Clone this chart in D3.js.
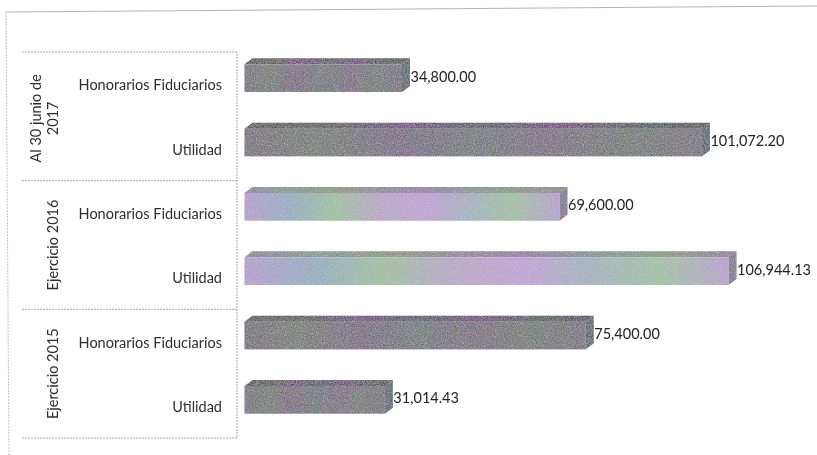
<!DOCTYPE html>
<html>
<head>
<meta charset="utf-8">
<script src="https://d3js.org/d3.v7.min.js"></script>
<style>
  html, body {margin: 0; padding: 0; background: #fff;}
  text {font-family: Lato, "Open Sans", sans-serif; fill: #2e2e2e;}
  .cat {font-size: 14.5px; text-anchor: end;}
  .val {font-size: 14.5px; fill: #222;}
  .grp {font-size: 14.5px; text-anchor: middle;}
  .edge {stroke: #a8a8a8; stroke-width: 1; stroke-dasharray: 2 1; fill: none;}
  .page {stroke: #b4b4b4; stroke-width: 1; fill: none;}
</style>
</head>
<body>
<svg width="817" height="455"></svg>
<script>
var rowIds = ["h2017", "u2017", "h2016", "u2016", "h2015", "u2015"];
var categories = ["Honorarios Fiduciarios", "Utilidad", "Honorarios Fiduciarios", "Utilidad", "Honorarios Fiduciarios", "Utilidad"];
var values = [34800.00, 101072.20, 69600.00, 106944.13, 75400.00, 31014.43];
var groupNames = [["Al 30 junio de", "2017"], ["Ejercicio 2016"], ["Ejercicio 2015"]];
var groupRows = [["h2017", "u2017"], ["h2016", "u2016"], ["h2015", "u2015"]];

var svg = d3.select("svg");
var defs = svg.append("defs");

var x = d3.scaleLinear().domain([0, 106944.13]).range([244.5, 728.5]);
var y = d3.scaleBand().domain(rowIds).range([46, 432]).paddingInner(0.57).paddingOuter(0.285);
var depthX = 8, depthY = 6, wallDrop = 6;
var fmt = d3.format(",.2f");

// page edges of the scan
svg.append("path").attr("class", "page").attr("d", d3.line()([[817, 6], [6, 12]]));
svg.append("path").attr("class", "edge").attr("d", d3.line()([[6, 12], [9, 455]])).attr("stroke", "#c4c4c4").style("stroke", "#c4c4c4");

// gradients of the bars
var darkFront = ["#6e6c7a", "#6c7870", "#736680", "#687478", "#75687f", "#6a7672", "#706c7c"];
var darkTop = ["#4e4a56", "#4c5850", "#6a3f80", "#45555c", "#6b3f7e", "#46565a", "#3e4a52"];
var lightFront = ["#b79fd6", "#8fb0c8", "#9cc4a0", "#b8a8cc", "#c4a2dc", "#a0b4c4", "#9ec6a4", "#b9a0d6"];
var lightTop = ["#86849a", "#7f9a8e", "#869680", "#8d8599", "#8e7ea0", "#809496", "#84987c", "#8a7f9c"];

function addGradient(id, stops) {
  var g = defs.append("linearGradient").attr("id", id);
  stops.forEach(function(c, k) {
    g.append("stop").attr("offset", k / (stops.length - 1)).attr("stop-color", c);
  });
}
addGradient("front-dark", darkFront);
addGradient("top-dark", darkTop);
addGradient("front-light", lightFront);
addGradient("top-light", lightTop);
function tone(i) { return (i == 2 || i == 3) ? "light" : "dark"; }

// grain of the scan
var f = defs.append("filter").attr("id", "grain").attr("x", 0).attr("y", 0).attr("width", 1).attr("height", 1);
f.append("feTurbulence").attr("type", "fractalNoise").attr("baseFrequency", 0.9).attr("numOctaves", 2).attr("seed", 4).attr("result", "n");
f.append("feColorMatrix").attr("in", "n").attr("type", "matrix")
  .attr("values", "1 0 0 0 0  0 1 0 0 0  0 0 1 0 0  0.9 0 0 0 -0.2").attr("result", "d");
f.append("feComposite").attr("in", "d").attr("in2", "SourceAlpha").attr("operator", "in").attr("result", "c");
f.append("feMerge").selectAll("feMergeNode").data(["SourceGraphic", "c"]).enter().append("feMergeNode").attr("in", function(d) { return d; });

var soft = defs.append("filter").attr("id", "soft");
soft.append("feGaussianBlur").attr("stdDeviation", 0.35);

// bars
var bars = svg.append("g").selectAll("g").data(values).enter().append("g").attr("filter", "url(#grain)");
function rowY(i) { return y(rowIds[i]); }
bars.append("path")
  .attr("d", function(d, i) {
    var x0 = x(0), x1 = x(d), t = rowY(i);
    return "M" + x0 + "," + t + "L" + (x0 + depthX) + "," + (t - depthY) + "L" + (x1 + depthX) + "," + (t - depthY) + "L" + x1 + "," + t + "Z";
  })
  .attr("fill", function(d, i) { return "url(#top-" + tone(i) + ")"; });
bars.append("path")
  .attr("d", function(d, i) {
    var x1 = x(d), t = rowY(i), b = t + y.bandwidth();
    return "M" + x1 + "," + t + "L" + (x1 + depthX) + "," + (t - depthY) + "L" + (x1 + depthX) + "," + (b - depthY) + "L" + x1 + "," + b + "Z";
  })
  .attr("fill", function(d, i) { return tone(i) == "light" ? "#77758f" : "#4a5f66"; });
bars.append("rect")
  .attr("x", x(0))
  .attr("y", function(d, i) { return rowY(i); })
  .attr("width", function(d) { return x(d) - x(0); })
  .attr("height", y.bandwidth())
  .attr("fill", function(d, i) { return "url(#front-" + tone(i) + ")"; });

// value labels
svg.append("g").attr("filter", "url(#soft)").selectAll("text").data(values).enter().append("text")
  .attr("class", "val")
  .attr("x", function(d) { return x(d) + depthX + 0.5; })
  .attr("y", function(d, i) { return rowY(i) + y.bandwidth() / 2 + 3.5; })
  .text(function(d) { return fmt(d); });

// category labels
svg.append("g").attr("filter", "url(#soft)").selectAll("text").data(categories).enter().append("text")
  .attr("class", "cat")
  .attr("x", 222)
  .attr("y", function(d, i) { return rowY(i) + y.bandwidth() / 2 + wallDrop + 6; })
  .text(function(d) { return d; });

// group separators and names
var step = y.step();
var groupTop = function(i) { return y(groupRows[i][0]) - y.paddingOuter() * step + wallDrop; };
var groupBottom = function(i) { return groupTop(i) + 2 * step; };
var frame = svg.append("g");
groupRows.forEach(function(r, i) {
  frame.append("path").attr("class", "edge").attr("d", d3.line()([[22, groupTop(i)], [237, groupTop(i)]]));
});
frame.append("path").attr("class", "edge").attr("d", d3.line()([[22, groupBottom(2)], [237, groupBottom(2)], [237, groupTop(0)]]));

var names = svg.append("g").attr("filter", "url(#soft)").selectAll("text").data(groupNames).enter().append("text")
  .attr("class", "grp")
  .attr("transform", function(d, i) {
    return "translate(" + (d.length > 1 ? 41 : 58) + "," + (groupTop(i) + step + (d.length > 1 ? 2 : 0)) + ") rotate(-90)";
  });
names.selectAll("tspan").data(function(d) { return d; }).enter().append("tspan")
  .attr("x", 0)
  .attr("dy", function(d, i) { return i == 0 ? 0 : 17; })
  .text(function(d) { return d; });
</script>
</body>
</html>
